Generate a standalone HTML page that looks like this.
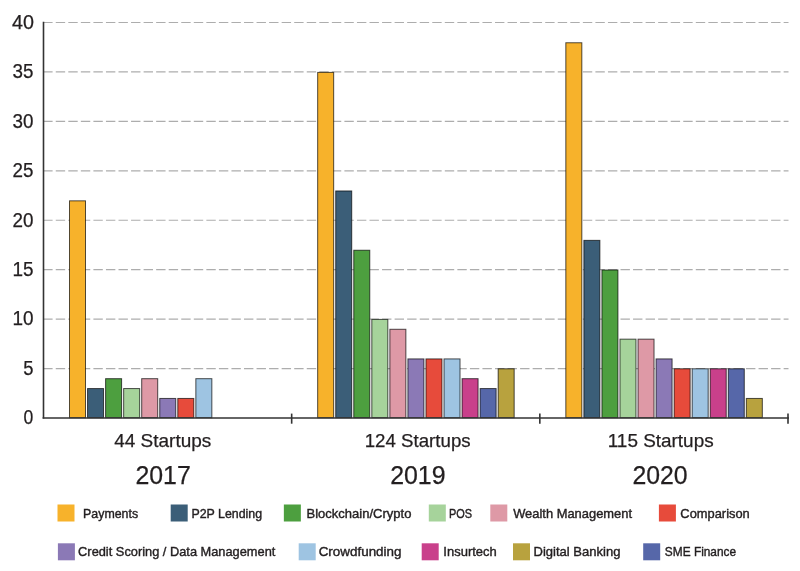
<!DOCTYPE html>
<html><head><meta charset="utf-8"><style>
html,body{margin:0;padding:0;background:#fff;}
svg{display:block;will-change:transform;}
text{font-family:"Liberation Sans",sans-serif;fill:#231f20;stroke:#231f20;stroke-width:0.25px;}
text.lg{stroke-width:0.4px;}
</style></head><body>
<svg width="800" height="571" viewBox="0 0 800 571">
<rect width="800" height="571" fill="#fff"/>
<line x1="43.2" y1="368.56" x2="788.5" y2="368.56" stroke="#adadad" stroke-width="1.15" stroke-dasharray="9.4 3.15"/>
<line x1="43.2" y1="319.12" x2="788.5" y2="319.12" stroke="#adadad" stroke-width="1.15" stroke-dasharray="9.4 3.15"/>
<line x1="43.2" y1="269.68" x2="788.5" y2="269.68" stroke="#adadad" stroke-width="1.15" stroke-dasharray="9.4 3.15"/>
<line x1="43.2" y1="220.24" x2="788.5" y2="220.24" stroke="#adadad" stroke-width="1.15" stroke-dasharray="9.4 3.15"/>
<line x1="43.2" y1="170.80" x2="788.5" y2="170.80" stroke="#adadad" stroke-width="1.15" stroke-dasharray="9.4 3.15"/>
<line x1="43.2" y1="121.36" x2="788.5" y2="121.36" stroke="#adadad" stroke-width="1.15" stroke-dasharray="9.4 3.15"/>
<line x1="43.2" y1="71.92" x2="788.5" y2="71.92" stroke="#adadad" stroke-width="1.15" stroke-dasharray="9.4 3.15"/>
<line x1="43.2" y1="22.48" x2="788.5" y2="22.48" stroke="#adadad" stroke-width="1.15" stroke-dasharray="9.4 3.15"/>
<rect x="69.50" y="200.84" width="16.00" height="216.86" fill="#F7B22B" stroke="rgba(0,0,0,0.68)" stroke-width="1"/>
<rect x="87.55" y="388.56" width="16.00" height="29.14" fill="#3B5E78" stroke="rgba(0,0,0,0.68)" stroke-width="1"/>
<rect x="105.60" y="378.68" width="16.00" height="39.02" fill="#4D9F3F" stroke="rgba(0,0,0,0.68)" stroke-width="1"/>
<rect x="123.65" y="388.56" width="16.00" height="29.14" fill="#A6D39B" stroke="rgba(0,0,0,0.68)" stroke-width="1"/>
<rect x="141.70" y="378.68" width="16.00" height="39.02" fill="#DE99A6" stroke="rgba(0,0,0,0.68)" stroke-width="1"/>
<rect x="159.75" y="398.44" width="16.00" height="19.26" fill="#8B79B6" stroke="rgba(0,0,0,0.68)" stroke-width="1"/>
<rect x="177.80" y="398.44" width="16.00" height="19.26" fill="#E74B3B" stroke="rgba(0,0,0,0.68)" stroke-width="1"/>
<rect x="195.85" y="378.68" width="16.00" height="39.02" fill="#9EC4E2" stroke="rgba(0,0,0,0.68)" stroke-width="1"/>
<rect x="317.67" y="72.40" width="16.00" height="345.30" fill="#F7B22B" stroke="rgba(0,0,0,0.68)" stroke-width="1"/>
<rect x="335.72" y="190.96" width="16.00" height="226.74" fill="#3B5E78" stroke="rgba(0,0,0,0.68)" stroke-width="1"/>
<rect x="353.77" y="250.24" width="16.00" height="167.46" fill="#4D9F3F" stroke="rgba(0,0,0,0.68)" stroke-width="1"/>
<rect x="371.82" y="319.40" width="16.00" height="98.30" fill="#A6D39B" stroke="rgba(0,0,0,0.68)" stroke-width="1"/>
<rect x="389.87" y="329.28" width="16.00" height="88.42" fill="#DE99A6" stroke="rgba(0,0,0,0.68)" stroke-width="1"/>
<rect x="407.92" y="358.92" width="16.00" height="58.78" fill="#8B79B6" stroke="rgba(0,0,0,0.68)" stroke-width="1"/>
<rect x="425.97" y="358.92" width="16.00" height="58.78" fill="#E74B3B" stroke="rgba(0,0,0,0.68)" stroke-width="1"/>
<rect x="444.02" y="358.92" width="16.00" height="58.78" fill="#9EC4E2" stroke="rgba(0,0,0,0.68)" stroke-width="1"/>
<rect x="462.07" y="378.68" width="16.00" height="39.02" fill="#C9408B" stroke="rgba(0,0,0,0.68)" stroke-width="1"/>
<rect x="480.12" y="388.56" width="16.00" height="29.14" fill="#5667A9" stroke="rgba(0,0,0,0.68)" stroke-width="1"/>
<rect x="498.17" y="368.80" width="16.00" height="48.90" fill="#B8A23E" stroke="rgba(0,0,0,0.68)" stroke-width="1"/>
<rect x="565.83" y="42.76" width="16.00" height="374.94" fill="#F7B22B" stroke="rgba(0,0,0,0.68)" stroke-width="1"/>
<rect x="583.88" y="240.36" width="16.00" height="177.34" fill="#3B5E78" stroke="rgba(0,0,0,0.68)" stroke-width="1"/>
<rect x="601.93" y="270.00" width="16.00" height="147.70" fill="#4D9F3F" stroke="rgba(0,0,0,0.68)" stroke-width="1"/>
<rect x="619.98" y="339.16" width="16.00" height="78.54" fill="#A6D39B" stroke="rgba(0,0,0,0.68)" stroke-width="1"/>
<rect x="638.03" y="339.16" width="16.00" height="78.54" fill="#DE99A6" stroke="rgba(0,0,0,0.68)" stroke-width="1"/>
<rect x="656.08" y="358.92" width="16.00" height="58.78" fill="#8B79B6" stroke="rgba(0,0,0,0.68)" stroke-width="1"/>
<rect x="674.13" y="368.80" width="16.00" height="48.90" fill="#E74B3B" stroke="rgba(0,0,0,0.68)" stroke-width="1"/>
<rect x="692.18" y="368.80" width="16.00" height="48.90" fill="#9EC4E2" stroke="rgba(0,0,0,0.68)" stroke-width="1"/>
<rect x="710.23" y="368.80" width="16.00" height="48.90" fill="#C9408B" stroke="rgba(0,0,0,0.68)" stroke-width="1"/>
<rect x="728.28" y="368.80" width="16.00" height="48.90" fill="#5667A9" stroke="rgba(0,0,0,0.68)" stroke-width="1"/>
<rect x="746.33" y="398.44" width="16.00" height="19.26" fill="#B8A23E" stroke="rgba(0,0,0,0.68)" stroke-width="1"/>
<line x1="43.5" y1="21.8" x2="43.5" y2="418.59999999999997" stroke="#333" stroke-width="1.6"/>
<line x1="42.6" y1="418.0" x2="788.9" y2="418.0" stroke="#333" stroke-width="1.6"/>
<line x1="291.67" y1="413.6" x2="291.67" y2="423.7" stroke="#333" stroke-width="1.6"/>
<line x1="539.83" y1="413.6" x2="539.83" y2="423.7" stroke="#333" stroke-width="1.6"/>
<line x1="788.0" y1="413.6" x2="788.0" y2="423.7" stroke="#333" stroke-width="1.6"/>
<text x="12.01" y="28.90" font-size="20" textLength="21.95" lengthAdjust="spacingAndGlyphs">40</text>
<text x="12.54" y="78.40" font-size="20" textLength="20.92" lengthAdjust="spacingAndGlyphs">35</text>
<text x="12.54" y="127.80" font-size="20" textLength="20.92" lengthAdjust="spacingAndGlyphs">30</text>
<text x="12.54" y="177.20" font-size="20" textLength="20.92" lengthAdjust="spacingAndGlyphs">25</text>
<text x="12.54" y="226.60" font-size="20" textLength="20.92" lengthAdjust="spacingAndGlyphs">20</text>
<text x="12.58" y="275.90" font-size="20" textLength="21.05" lengthAdjust="spacingAndGlyphs">15</text>
<text x="12.58" y="325.20" font-size="20" textLength="21.05" lengthAdjust="spacingAndGlyphs">10</text>
<text x="23.21" y="374.80" font-size="20" textLength="10.25" lengthAdjust="spacingAndGlyphs">5</text>
<text x="23.53" y="424.20" font-size="20" textLength="9.77" lengthAdjust="spacingAndGlyphs">0</text>
<text x="114.18" y="446.80" font-size="18.5" textLength="97.12" lengthAdjust="spacingAndGlyphs">44 Startups</text>
<text x="364.74" y="446.70" font-size="18.5" textLength="105.90" lengthAdjust="spacingAndGlyphs">124 Startups</text>
<text x="607.74" y="446.70" font-size="18.5" textLength="105.90" lengthAdjust="spacingAndGlyphs">115 Startups</text>
<text x="135.40" y="483.50" font-size="25.5" textLength="55.37" lengthAdjust="spacingAndGlyphs">2017</text>
<text x="390.15" y="483.80" font-size="25.5" textLength="55.45" lengthAdjust="spacingAndGlyphs">2019</text>
<text x="632.39" y="483.70" font-size="25.5" textLength="55.22" lengthAdjust="spacingAndGlyphs">2020</text>
<text x="83.05" y="517.80" font-size="12.8" textLength="55.10" lengthAdjust="spacingAndGlyphs" class="lg">Payments</text>
<text x="191.39" y="517.90" font-size="12.8" textLength="70.74" lengthAdjust="spacingAndGlyphs" class="lg">P2P Lending</text>
<text x="306.56" y="517.90" font-size="12.8" textLength="104.84" lengthAdjust="spacingAndGlyphs" class="lg">Blockchain/Crypto</text>
<text x="449.05" y="517.90" font-size="12.8" textLength="23.10" lengthAdjust="spacingAndGlyphs" class="lg">POS</text>
<text x="513.16" y="517.90" font-size="12.8" textLength="118.85" lengthAdjust="spacingAndGlyphs" class="lg">Wealth Management</text>
<text x="680.36" y="517.90" font-size="12.8" textLength="69.43" lengthAdjust="spacingAndGlyphs" class="lg">Comparison</text>
<text x="78.11" y="556.30" font-size="12.8" textLength="197.23" lengthAdjust="spacingAndGlyphs" class="lg">Credit Scoring / Data Management</text>
<text x="318.69" y="556.30" font-size="12.8" textLength="82.77" lengthAdjust="spacingAndGlyphs" class="lg">Crowdfunding</text>
<text x="443.39" y="556.30" font-size="12.8" textLength="53.40" lengthAdjust="spacingAndGlyphs" class="lg">Insurtech</text>
<text x="533.55" y="556.30" font-size="12.8" textLength="86.91" lengthAdjust="spacingAndGlyphs" class="lg">Digital Banking</text>
<text x="664.85" y="556.30" font-size="12.8" textLength="71.29" lengthAdjust="spacingAndGlyphs" class="lg">SME Finance</text>
<rect x="57.5" y="504.5" width="17" height="17" fill="#F7B22B"/>
<rect x="170.7" y="504.5" width="17" height="17" fill="#3B5E78"/>
<rect x="283.85" y="504.5" width="17" height="17" fill="#4D9F3F"/>
<rect x="428.8" y="504.5" width="17" height="17" fill="#A6D39B"/>
<rect x="490.3" y="504.5" width="17" height="17" fill="#DE99A6"/>
<rect x="658.9" y="504.5" width="17" height="17" fill="#E74B3B"/>
<rect x="57.9" y="543.3" width="17" height="17" fill="#8B79B6"/>
<rect x="298.7" y="543.3" width="17" height="17" fill="#9EC4E2"/>
<rect x="421.7" y="543.3" width="17" height="17" fill="#C9408B"/>
<rect x="513.0" y="543.3" width="17" height="17" fill="#B8A23E"/>
<rect x="643.2" y="543.3" width="17" height="17" fill="#5667A9"/>
</svg>
</body></html>
